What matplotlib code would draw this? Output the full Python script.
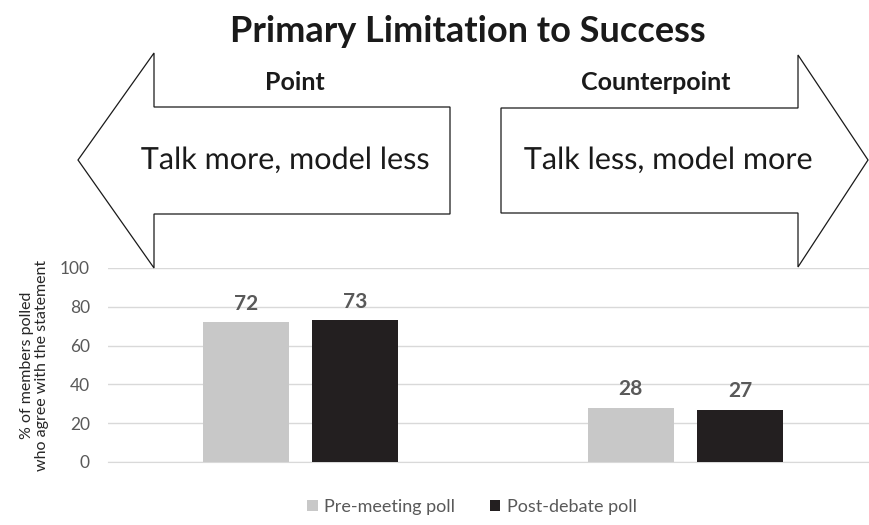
import matplotlib
matplotlib.use("Agg")
import matplotlib.pyplot as plt
from matplotlib.patches import Polygon
import matplotlib.patheffects as pe
import numpy as np

plt.rcParams['font.family'] = ['Lato', 'DejaVu Sans']

# data
categories = ["Point", "Counterpoint"]
pre_meeting = [72, 28]
post_debate = [73, 27]
series_names = ["Pre-meeting poll", "Post-debate poll"]
yticks = [0, 20, 40, 60, 80, 100]

pre_color = "#C8C8C8"
post_color = "#231F20"
label_gray = "#595959"

W, H = 869, 525
fig = plt.figure(figsize=(W / 100, H / 100), dpi=100)

# bar chart axes
ax = fig.add_axes([108 / W, 63 / H, (W - 108) / W, 194 / H])
x = np.arange(len(categories))
bw = 0.223
off = 0.142
b1 = ax.bar(x - off, pre_meeting, bw, color=pre_color, label=series_names[0], zorder=3)
b2 = ax.bar(x + off, post_debate, bw, color=post_color, label=series_names[1], zorder=3)

for bars, vals in [(b1, pre_meeting), (b2, post_debate)]:
    for rect, v in zip(bars, vals):
        ax.annotate(str(v), (rect.get_x() + rect.get_width() / 2, v),
                    xytext=(0, 6), textcoords="offset points",
                    ha="center", va="bottom", fontsize=15, fontweight="bold",
                    color=label_gray)

ax.set_xlim(-0.5, -0.5 + (W - 108) / 385)
ax.set_ylim(0, 100)
ax.set_yticks(yticks)
ax.set_xticks([])
ax.yaxis.grid(True, color="#D9D9D9", linewidth=1, zorder=0)
for s in ["top", "right", "left"]:
    ax.spines[s].set_visible(False)
ax.spines["bottom"].set_color("#D9D9D9")
ax.tick_params(axis="y", length=0, labelsize=12.5, labelcolor=label_gray, pad=13)
ax.set_ylabel("% of members polled\nwho agree with the statement",
              fontsize=11.5, color="#262626", labelpad=8, linespacing=1.1)

leg = fig.legend(loc="center", bbox_to_anchor=(472 / W, 1 - 507 / H), ncol=2,
                 frameon=False, fontsize=13, handlelength=0.6, handleheight=0.6,
                 handletextpad=0.35, columnspacing=1.9)
for t in leg.get_texts():
    t.set_color(label_gray)

# overlay for title and arrows (pixel coordinates)
ov = fig.add_axes([0, 0, 1, 1], zorder=5)
ov.set_xlim(0, W)
ov.set_ylim(H, 0)
ov.axis("off")
ov.patch.set_alpha(0)

left_arrow = [(78, 160), (154, 53), (154, 107), (450, 107), (450, 214),
              (154, 214), (154, 268)]
right_arrow = [(868, 160), (798, 55), (798, 108), (501, 108), (501, 213),
               (798, 213), (798, 267)]
for pts in (left_arrow, right_arrow):
    ov.add_patch(Polygon(pts, closed=True, facecolor="white",
                         edgecolor="#1a1a1a", linewidth=0.9))

ov.text(468, 32, "Primary Limitation to Success", ha="center", va="center",
        fontsize=26, fontweight="bold", color="#1a1a1a")
ov.text(295, 83, "Point", ha="center", va="center", fontsize=18,
        fontweight="bold", color="#1a1a1a")
ov.text(656, 83, "Counterpoint", ha="center", va="center", fontsize=18,
        fontweight="bold", color="#1a1a1a")
shadow = [pe.SimpleLineShadow(offset=(1, -1), alpha=0.2), pe.Normal()]
ov.text(285, 160, "Talk more, model less", ha="center", va="center",
        fontsize=22, color="#1a1a1a", path_effects=shadow)
ov.text(668, 160, "Talk less, model more", ha="center", va="center",
        fontsize=22, color="#1a1a1a", path_effects=shadow)

fig.savefig("out.png", dpi=100)
